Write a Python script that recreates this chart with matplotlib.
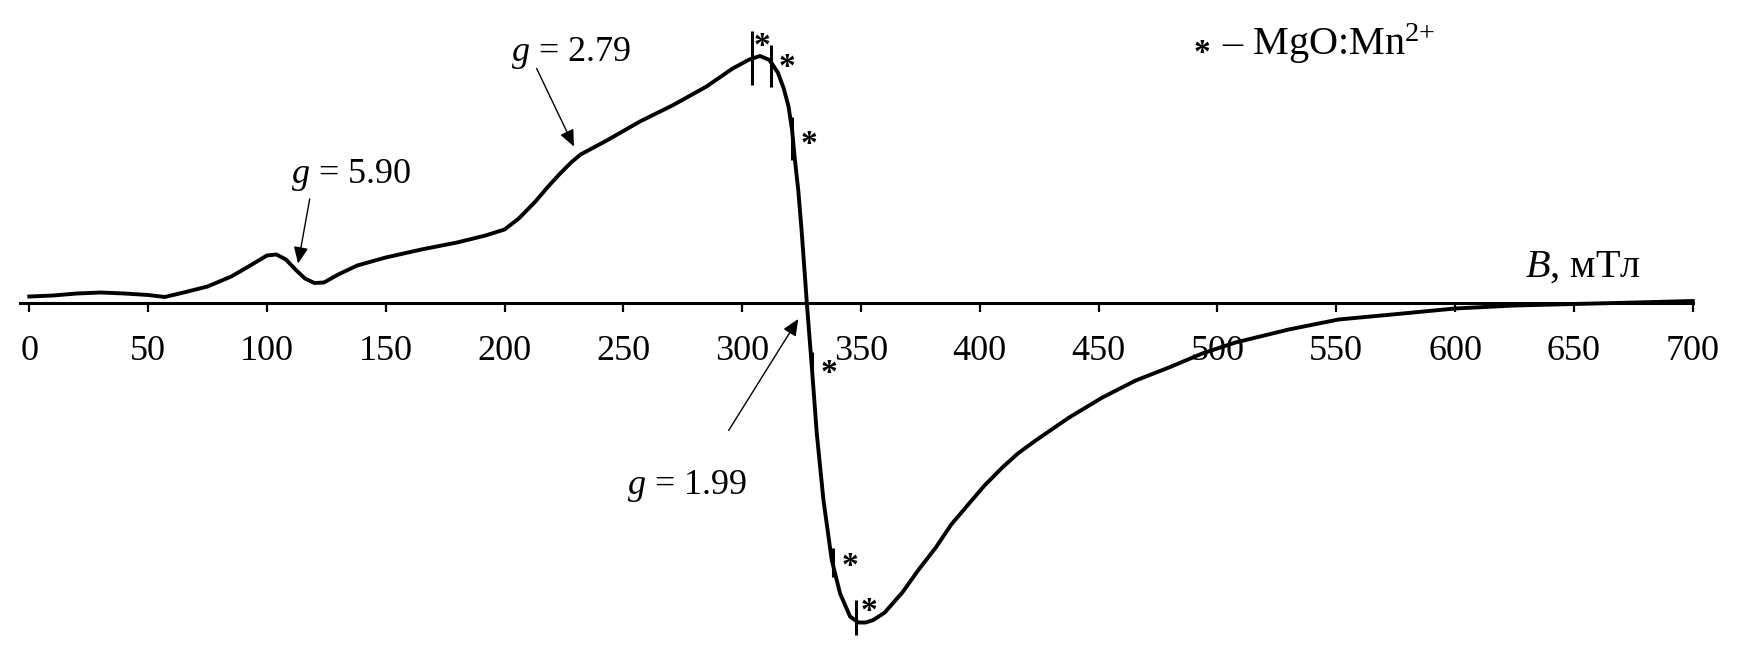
import matplotlib
matplotlib.use("Agg")
import matplotlib.pyplot as plt

# EPR spectrum, B in mT, signal in arbitrary units
field = [0, 10, 20, 30, 40, 50, 57, 65, 75, 85, 93, 100, 104, 108, 112, 116,
         120, 124, 130, 138, 150, 165, 180, 192, 200, 206, 213, 218, 223, 228,
         232, 243, 257, 271, 285, 296, 303, 307.5, 311.5, 315, 317.5, 319.5,
         321, 322.2, 323.6, 325, 327.2, 329.3, 331.4, 334.2, 337.7, 341.2,
         345.4, 348.9, 352, 355.2, 360, 367.4, 374, 381.5, 388, 395.5, 402,
         409.5, 416, 423.5, 437.6, 451.6, 465.6, 479.6, 493.6, 507.6, 530,
         551, 578, 600, 625, 650, 676, 700]
signal = [6, 7, 9, 10, 9, 7.5, 5.5, 10, 16, 26, 37, 47, 48, 43, 33, 24,
          19.5, 20, 28, 37, 45, 53, 60, 67, 73, 84, 101, 115, 128, 140,
          148, 162, 181, 197.5, 216, 234, 243, 246.5, 242.5, 230, 214, 196,
          172.5, 142.5, 112.5, 72.5, 0, -64, -131, -197.5, -257.5, -291,
          -314, -320, -320, -317.5, -310, -290, -268, -245, -222, -201, -183,
          -165, -151, -138, -115, -95, -78, -65, -51, -40, -27,
          -17, -11, -6, -3, -1.5, 0, 1.5]

# MgO:Mn2+ reference lines
mn_field = [304, 312, 321.1, 329.5, 338.4, 347.9]
mn_high = [272, 257.5, 186, -49, -245.5, -297.5]
mn_low = [217.5, 215.5, 142.5, -79, -274.5, -332.5]
star_field = [308.2, 318.7, 328.3, 336.4, 345.4, 353.5]
star_amp = [264, 243, 166, -62.5, -256, -301]

ticks = list(range(0, 701, 50))

plt.rcParams["font.family"] = ["Liberation Serif", "DejaVu Serif"]
plt.rcParams["mathtext.fontset"] = "custom"
plt.rcParams["mathtext.rm"] = "Liberation Serif"
plt.rcParams["mathtext.it"] = "Liberation Serif:italic"

fig = plt.figure(figsize=(17.39, 6.70), dpi=100)
ax = fig.add_axes([0, 0, 1, 1])

ax.plot(field, signal, color="k", lw=2.8, solid_joinstyle="round")
ax.vlines(mn_field, mn_low, mn_high, color="k", lw=2.2)
for b, a in zip(star_field, star_amp):
    ax.annotate("*", xy=(b, a), xytext=(0, -12), textcoords="offset points",
                ha="center", va="baseline", fontsize=24, fontweight="bold")

arrow = dict(arrowstyle="-|>,head_length=0.5,head_width=0.22", color="k",
             lw=1.0, mutation_scale=20, shrinkA=0, shrinkB=0)
ax.text(135.4, 119.5, "$g$ = 5.90", fontsize=26, ha="center", va="baseline")
ax.annotate("", xy=(113.1, 39), xytext=(118, 103.5), arrowprops=arrow)
ax.text(227.9, 241.5, "$g$ = 2.79", fontsize=26, ha="center", va="baseline")
ax.annotate("", xy=(229.2, 156), xytext=(213.5, 234), arrowprops=arrow)
ax.text(277, -191, "$g$ = 1.99", fontsize=26, ha="center", va="baseline")
ax.annotate("", xy=(323.6, -16.5), xytext=(294.3, -128), arrowprops=arrow)

ax.text(629.5, 25.8, "$B$, мТл", fontsize=29, ha="left", va="baseline")

# legend for the asterisks
ax.annotate("*", xy=(493.7, 257.5), xytext=(0, -12), textcoords="offset points",
            ha="center", va="baseline", fontsize=24, fontweight="bold")
ax.text(501.8, 247.5, "– MgO:Mn$^{2{+}}$", fontsize=29, ha="left", va="baseline")

ax.set_xlim(-12.33, 719.5)
ax.set_ylim(-367.5, 302.5)
for s in ["left", "right", "top"]:
    ax.spines[s].set_visible(False)
ax.spines["bottom"].set_position(("data", 0))
ax.spines["bottom"].set_bounds(-4, 700)
ax.spines["bottom"].set_linewidth(2.2)
ax.set_xticks(ticks)
ax.set_yticks([])
ax.tick_params(axis="x", direction="out", length=6.5, width=1.6, pad=17,
               labelsize=26)

fig.savefig("out.png", dpi=100)
